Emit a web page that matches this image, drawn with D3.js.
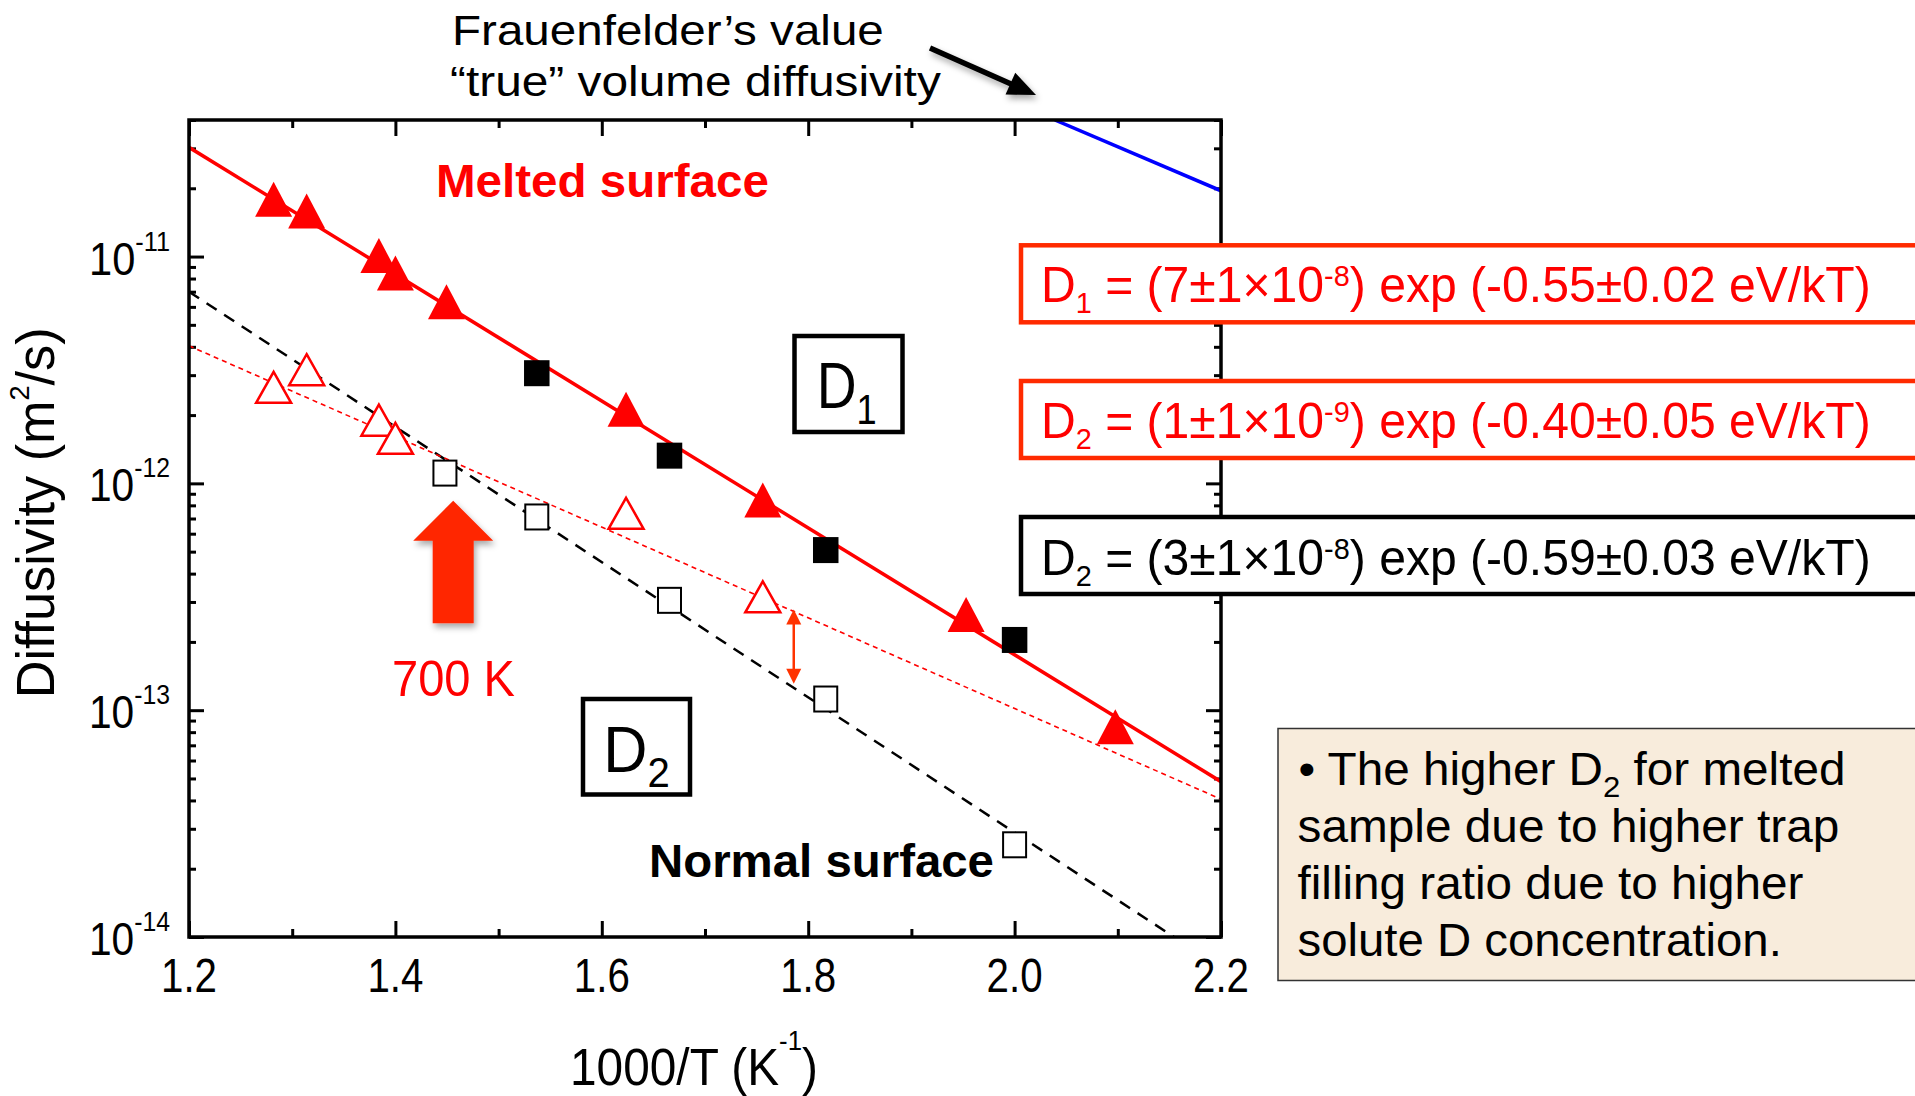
<!DOCTYPE html>
<html>
<head>
<meta charset="utf-8">
<script src="https://cdn.jsdelivr.net/npm/d3@7"></script>
<style>
  body { margin: 0; background: #fff; }
  svg { display: block; }
  text { font-family: "Liberation Sans", Arial, Helvetica, sans-serif; white-space: pre; }
</style>
</head>
<body>
<svg id="chart" width="1915" height="1096"></svg>
<script>
// ---------------- data ----------------
const xTickValues = [1.2, 1.4, 1.6, 1.8, 2.0, 2.2];
const xTickLabels = ["1.2", "1.4", "1.6", "1.8", "2.0", "2.2"];
const xMinorValues = [1.3, 1.5, 1.7, 1.9, 2.1];
const yTickExponents = [-14, -13, -12, -11];
const yTickLabels = ["-14", "-13", "-12", "-11"];

// Melted surface, D1 (solid red triangles)
const meltedD1X = [1.282, 1.314, 1.384, 1.400, 1.4495, 1.6235, 1.756, 1.953, 2.0976];
const meltedD1Y = [1.79e-11, 1.59e-11, 1.01e-11, 8.47e-12, 6.32e-12, 2.12e-12, 8.45e-13, 2.64e-13, 8.45e-14];
// Melted surface, D2 (open red triangles)
const meltedD2X = [1.282, 1.314, 1.384, 1.400, 1.6235, 1.756];
const meltedD2Y = [2.65e-12, 3.17e-12, 1.90e-12, 1.58e-12, 7.38e-13, 3.16e-13];
// Normal surface, D1 (solid black squares)
const normalD1X = [1.537, 1.6656, 1.817, 2.000];
const normalD1Y = [3.06e-12, 1.325e-12, 5.08e-13, 2.04e-13];
// Normal surface, D2 (open black squares)
const normalD2X = [1.448, 1.537, 1.6656, 1.817, 2.000];
const normalD2Y = [1.11e-12, 7.11e-13, 3.05e-13, 1.12e-13, 2.55e-14];

// Fit lines (end points)
const fitD1X = [1.2, 2.2];
const fitD1Y = [3.03e-11, 4.84e-14];
const fitD2MeltedX = [1.2, 2.2];
const fitD2MeltedY = [4.04e-12, 4.05e-14];
const fitD2NormalX = [1.2, 2.1545];
const fitD2NormalY = [7.0e-12, 1.0e-14];
const frauenfelderX = [2.039, 2.2];
const frauenfelderY = [4.0e-11, 1.95e-11];

const equations = [
  { parts: ["D", ["1", "sub"], " = (7±1×10", ["-8", "sup"], ") exp (-0.55±0.02 eV/kT)"], color: "#ff0000", box: "#ff2a00" },
  { parts: ["D", ["2", "sub"], " = (1±1×10", ["-9", "sup"], ") exp (-0.40±0.05 eV/kT)"], color: "#ff0000", box: "#ff2a00" },
  { parts: ["D", ["2", "sub"], " = (3±1×10", ["-8", "sup"], ") exp (-0.59±0.03 eV/kT)"], color: "#000000", box: "#000000" }
];
const noteLines = [
  ["• The higher D", ["2", "sub"], " for melted"],
  ["sample due to higher trap"],
  ["filling ratio due to higher"],
  ["solute D concentration."]
];

// ---------------- layout ----------------
const svg = d3.select("#chart");
const L = 189, R = 1221, T = 120, B = 937;
const x = d3.scaleLinear().domain([1.2, 2.2]).range([L, R]);
const y = d3.scaleLog().domain([1e-14, 4e-11]).range([B, T]);

const defs = svg.append("defs");
defs.append("clipPath").attr("id", "plotclip")
  .append("rect").attr("x", L).attr("y", T).attr("width", R - L).attr("height", B - T);
const sh = defs.append("filter").attr("id", "shadow").attr("x", "-30%").attr("y", "-30%").attr("width", "160%").attr("height", "160%");
sh.append("feDropShadow").attr("dx", 2).attr("dy", 4).attr("stdDeviation", 3).attr("flood-color", "#000").attr("flood-opacity", 0.35);

// rich text helper: parts = strings or [string, "sup"|"sub"]
function rich(parent, px, py, parts, o) {
  const size = o.size;
  const g = parent.append("g");
  const t = g.append("text")
    .attr("font-size", size)
    .attr("font-weight", o.weight || "normal")
    .attr("fill", o.fill || "#000");
  let cur = 0;
  parts.forEach(p => {
    const [s, type] = Array.isArray(p) ? p : [p, ""];
    let target = 0, fs = size;
    if (type === "sup") { target = -o.supShift; fs = o.supSize; }
    if (type === "sub") { target = o.subShift; fs = o.subSize; }
    t.append("tspan").attr("font-size", fs).attr("dy", target - cur).text(s);
    cur = target;
  });
  const nat = t.node().getComputedTextLength();
  const s = o.width ? o.width / nat : (o.sx || 1);
  const off = o.anchor === "middle" ? nat / 2 : (o.anchor === "end" ? nat : 0);
  g.attr("transform", `translate(${px},${py}) rotate(${o.rotate || 0}) scale(${s},1) translate(${-off},0)`);
  return g;
}

// ---------------- axes (ticks inward, on all four sides) ----------------
const yMajor = yTickExponents.map(e => Math.pow(10, e));
const yMinor = [];
yTickExponents.forEach(e => { for (let m = 2; m <= 9; m++) { const v = m * Math.pow(10, e); if (v <= 4e-11 * 1.0001) yMinor.push(v); } });

function styleAxis(g) {
  g.select(".domain").remove();
  g.selectAll(".tick line").attr("stroke", "#000").attr("stroke-width", 3);
  g.selectAll(".tick text").remove();
}
const axesG = svg.append("g");
axesG.append("g").attr("transform", `translate(0,${B})`).call(d3.axisBottom(x).tickValues(xTickValues).tickSize(-16).tickFormat("")).call(styleAxis);
axesG.append("g").attr("transform", `translate(0,${B})`).call(d3.axisBottom(x).tickValues(xMinorValues).tickSize(-8).tickFormat("")).call(styleAxis);
axesG.append("g").attr("transform", `translate(0,${T})`).call(d3.axisTop(x).tickValues(xTickValues).tickSize(-16).tickFormat("")).call(styleAxis);
axesG.append("g").attr("transform", `translate(0,${T})`).call(d3.axisTop(x).tickValues(xMinorValues).tickSize(-8).tickFormat("")).call(styleAxis);
axesG.append("g").attr("transform", `translate(${L},0)`).call(d3.axisLeft(y).tickValues(yMajor).tickSize(-15).tickFormat("")).call(styleAxis);
axesG.append("g").attr("transform", `translate(${L},0)`).call(d3.axisLeft(y).tickValues(yMinor).tickSize(-7).tickFormat("")).call(styleAxis);
axesG.append("g").attr("transform", `translate(${R},0)`).call(d3.axisRight(y).tickValues(yMajor).tickSize(-15).tickFormat("")).call(styleAxis);
axesG.append("g").attr("transform", `translate(${R},0)`).call(d3.axisRight(y).tickValues(yMinor).tickSize(-7).tickFormat("")).call(styleAxis);

// tick labels
xTickValues.forEach((v, i) => {
  rich(svg, x(v), 991.7, [xTickLabels[i]], { size: 48, anchor: "middle", width: 56 });
});
yMajor.forEach((v, i) => {
  rich(svg, 170, y(v) + 18, ["10", [yTickLabels[i], "sup"]], { size: 46, supSize: 28, supShift: 24, anchor: "end", width: 81 });
});

// axis titles
rich(svg, 570, 1085, ["1000/T (K", ["-1", "sup"], ")"], { size: 52, supSize: 28, supShift: 35, width: 248 });
rich(svg, 54, 512.8, ["Diffusivity (m", ["2", "sup"], "/s)"], { size: 54, supSize: 28, supShift: 25, anchor: "middle", rotate: -90, width: 371 });

// ---------------- fit lines ----------------
const lineGen = d3.line().x(d => x(d[0])).y(d => y(d[1]));
const linesG = svg.append("g").attr("clip-path", "url(#plotclip)");
linesG.append("path").datum(d3.zip(frauenfelderX, frauenfelderY)).attr("d", lineGen)
  .attr("fill", "none").attr("stroke", "#0000ff").attr("stroke-width", 3.5);
linesG.append("path").datum(d3.zip(fitD2NormalX, fitD2NormalY)).attr("d", lineGen)
  .attr("fill", "none").attr("stroke", "#000").attr("stroke-width", 2.5).attr("stroke-dasharray", "12,9");
linesG.append("path").datum(d3.zip(fitD2MeltedX, fitD2MeltedY)).attr("d", lineGen)
  .attr("fill", "none").attr("stroke", "#ff0000").attr("stroke-width", 1.6).attr("stroke-dasharray", "5,4");
linesG.append("path").datum(d3.zip(fitD1X, fitD1Y)).attr("d", lineGen)
  .attr("fill", "none").attr("stroke", "#ff0000").attr("stroke-width", 3.5);

// ---------------- markers ----------------
const tri = (w, h) => `M0,${-h / 2}L${w / 2},${h / 2}L${-w / 2},${h / 2}Z`;
const marksG = svg.append("g");
marksG.selectAll(".nd2").data(d3.zip(normalD2X, normalD2Y)).join("rect")
  .attr("x", d => x(d[0]) - 11.5).attr("y", d => y(d[1]) - 12.5).attr("width", 23).attr("height", 25)
  .attr("fill", "#fff").attr("stroke", "#000").attr("stroke-width", 2);
marksG.selectAll(".md2").data(d3.zip(meltedD2X, meltedD2Y)).join("path")
  .attr("d", tri(35, 31)).attr("transform", d => `translate(${x(d[0])},${y(d[1])})`)
  .attr("fill", "#fff").attr("stroke", "#ff0000").attr("stroke-width", 2.5);
marksG.selectAll(".nd1").data(d3.zip(normalD1X, normalD1Y)).join("rect")
  .attr("x", d => x(d[0]) - 12.75).attr("y", d => y(d[1]) - 13).attr("width", 25.5).attr("height", 26)
  .attr("fill", "#000");
marksG.selectAll(".md1").data(d3.zip(meltedD1X, meltedD1Y)).join("path")
  .attr("d", tri(37, 35)).attr("transform", d => `translate(${x(d[0])},${y(d[1])})`)
  .attr("fill", "#ff0000");

// ---------------- annotations ----------------
const ann = svg.append("g");
// D1 and D2 labelled boxes
ann.append("rect").attr("x", 794.5).attr("y", 336).attr("width", 108).attr("height", 96)
  .attr("fill", "none").attr("stroke", "#000").attr("stroke-width", 4.5);
rich(ann, 816.7, 408.3, ["D", ["1", "sub"]], { size: 64, subSize: 42, subShift: 16, width: 60 });
ann.append("rect").attr("x", 583).attr("y", 699).attr("width", 107).attr("height", 95.5)
  .attr("fill", "none").attr("stroke", "#000").attr("stroke-width", 4.5);
rich(ann, 603.2, 771.7, ["D", ["2", "sub"]], { size: 64, subSize: 42, subShift: 15, width: 66.5 });

rich(ann, 436, 196.7, ["Melted surface"], { size: 46, weight: "bold", fill: "#ff0000", width: 333 });
rich(ann, 649, 877, ["Normal surface"], { size: 47, weight: "bold", fill: "#000", width: 345 });
rich(ann, 392, 696, ["700 K"], { size: 50, fill: "#ff0000", width: 123 });

// big red arrow pointing up (700 K)
const arrowX = x(1.456), arrowTop = y(8.39e-13), arrowBot = y(2.42e-13);
const headH = 40, headW = 40, shaftW = 20.5;
ann.append("path")
  .attr("d", `M${arrowX},${arrowTop}L${arrowX + headW},${arrowTop + headH}L${arrowX + shaftW},${arrowTop + headH}` +
             `L${arrowX + shaftW},${arrowBot}L${arrowX - shaftW},${arrowBot}L${arrowX - shaftW},${arrowTop + headH}` +
             `L${arrowX - headW},${arrowTop + headH}Z`)
  .attr("fill", "#ff2600").attr("filter", "url(#shadow)");

// double-headed red arrow between the two D2 fits
const dax = 1.786;
const logInterp = (xs, ys, v) => Math.pow(10, Math.log10(ys[0]) + (v - xs[0]) * (Math.log10(ys[1]) - Math.log10(ys[0])) / (xs[1] - xs[0]));
const daTop = y(logInterp(fitD2MeltedX, fitD2MeltedY, dax)) - 2;
const daBot = y(logInterp(fitD2NormalX, fitD2NormalY, dax)) - 4;
const daCol = "#ff3300";
ann.append("line").attr("x1", x(dax)).attr("x2", x(dax)).attr("y1", daTop + 10).attr("y2", daBot - 10)
  .attr("stroke", daCol).attr("stroke-width", 2.5);
ann.append("path").attr("d", `M${x(dax)},${daTop}L${x(dax) + 7.5},${daTop + 15}L${x(dax) - 7.5},${daTop + 15}Z`).attr("fill", daCol);
ann.append("path").attr("d", `M${x(dax)},${daBot}L${x(dax) + 7.5},${daBot - 15}L${x(dax) - 7.5},${daBot - 15}Z`).attr("fill", daCol);

// Frauenfelder annotation
rich(ann, 452, 45, ["Frauenfelder’s value"], { size: 43, width: 432 });
rich(ann, 450, 96, ["“true” volume diffusivity"], { size: 43, width: 491 });
const ax0 = 930, ay0 = 48, ax1 = 1036, ay1 = 95;
const alen = Math.hypot(ax1 - ax0, ay1 - ay0), ux = (ax1 - ax0) / alen, uy = (ay1 - ay0) / alen;
const bgArrow = ann.append("g").attr("filter", "url(#shadow)");
bgArrow.append("line").attr("x1", ax0).attr("y1", ay0).attr("x2", ax1 - ux * 18).attr("y2", ay1 - uy * 18)
  .attr("stroke", "#000").attr("stroke-width", 5.5);
bgArrow.append("path").attr("d",
  `M${ax1},${ay1}L${ax1 - ux * 28 - uy * 12},${ay1 - uy * 28 + ux * 12}L${ax1 - ux * 28 + uy * 12},${ay1 - uy * 28 - ux * 12}Z`)
  .attr("fill", "#000");

// ---------------- frame ----------------
svg.append("rect").attr("x", L).attr("y", T).attr("width", R - L).attr("height", B - T)
  .attr("fill", "none").attr("stroke", "#000").attr("stroke-width", 3.5);

// ---------------- equation boxes ----------------
const eqTops = [245.3, 381, 517];
const eqBase = [302, 438, 575];
equations.forEach((eq, i) => {
  svg.append("rect").attr("x", 1021).attr("y", eqTops[i]).attr("width", 960).attr("height", 77)
    .attr("fill", "#fff").attr("stroke", eq.box).attr("stroke-width", 4.5);
  rich(svg, 1041, eqBase[i], eq.parts, { size: 50, fill: eq.color, subSize: 30, subShift: 11, supSize: 30, supShift: 16, width: 830 });
});

// ---------------- note box ----------------
svg.append("rect").attr("x", 1278).attr("y", 728.5).attr("width", 700).attr("height", 252)
  .attr("fill", "#f8ecdc").attr("stroke", "#333").attr("stroke-width", 1.5);
const noteX = [1298.5, 1297.5, 1297.5, 1297.5];
const noteBase = [785, 842, 899, 956];
const noteW = [547, 542, 506, 484.5];
noteLines.forEach((ln, i) => {
  rich(svg, noteX[i], noteBase[i], ln, { size: 46, subSize: 30, subShift: 12, width: noteW[i] });
});
</script>
</body>
</html>
